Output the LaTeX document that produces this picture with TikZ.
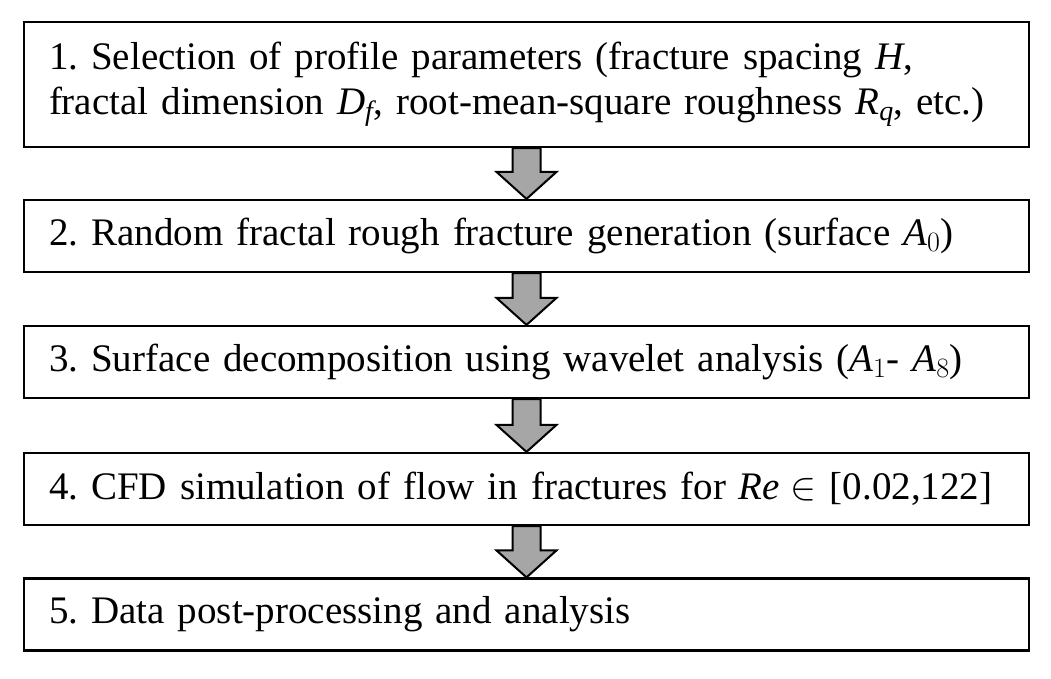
\RequirePackage{fix-cm}
\documentclass[tikz,border=0pt]{standalone}
\usepackage{fontspec}
\setmainfont{Liberation Serif}
\DeclareSymbolFont{letters}{TU}{\rmdefault}{m}{it}
\DeclareMathSizes{39}{39}{28}{20}
\usetikzlibrary{calc}
\definecolor{arrowgray}{HTML}{A6A6A6}
\tikzstyle{stepbox} = [draw, line width=2.2pt, rectangle, minimum width=1005pt,
    text width=955pt, align=left, inner xsep=25pt, inner ysep=0pt,
    font=\fontsize{39}{45}\selectfont\frenchspacing]
\tikzstyle{blockarrow} = [draw, line width=2pt, fill=arrowgray, line join=miter]
% grey block arrow from one step box down to the next
\newcommand{\steparrow}[2]{%
  \draw[blockarrow] ($(#1.south)+(-14,0)$) -- ($(#2.north)+(-14,-27)$)
    -- ($(#2.north)+(-30,-27)$) -- (#2.north) -- ($(#2.north)+(30,-27)$)
    -- ($(#2.north)+(14,-27)$) -- ($(#1.south)+(14,0)$) -- cycle;}

\begin{document}
\begin{tikzpicture}[x=1pt,y=-1pt]
\useasboundingbox (0,0) rectangle (1051,678);

\node[stepbox, minimum height=125pt] (sel) at (526.5,84.5)
  {1. Selection of profile parameters (fracture spacing $H$,\\
   fractal dimension $D_f$, root-mean-square roughness $R_q$, etc.)};
\node[stepbox, minimum height=72pt] (gen) at (526.5,236)
  {2. Random fractal rough fracture generation (surface $A_0$)};
\node[stepbox, minimum height=72pt] (dec) at (526.5,362)
  {3. Surface decomposition using wavelet analysis ($A_1$- $A_8$)};
\node[stepbox, minimum height=72pt] (cfd) at (526.5,489)
  {4. CFD simulation of flow in fractures for $Re\in$ [0.02,122]};
\node[stepbox, minimum height=72pt] (post) at (526.5,614.5)
  {5. Data post-processing and analysis};

\steparrow{sel}{gen}
\steparrow{gen}{dec}
\steparrow{dec}{cfd}
\steparrow{cfd}{post}
\end{tikzpicture}
\end{document}
